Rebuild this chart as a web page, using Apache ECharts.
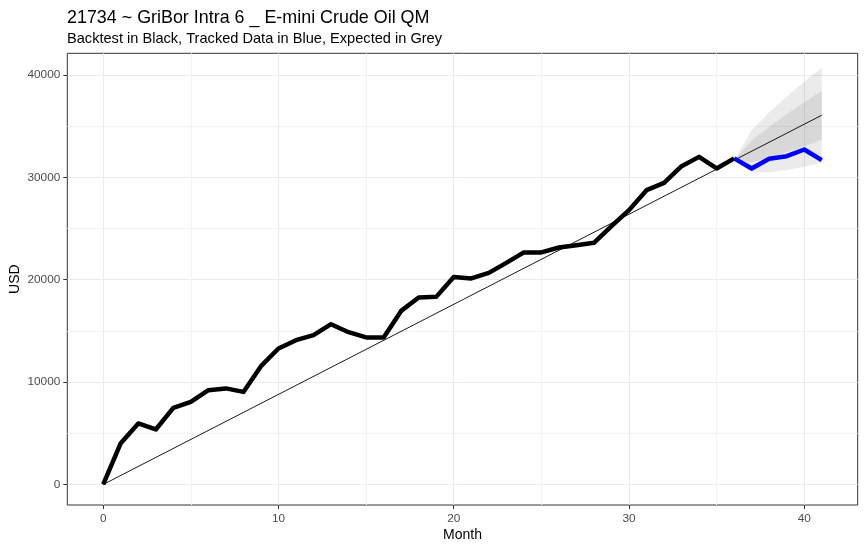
<!DOCTYPE html>
<html>
<head>
<meta charset="utf-8">
<script src="https://cdn.jsdelivr.net/npm/echarts@6/dist/echarts.min.js"></script>
<style>
html, body { margin: 0; padding: 0; background: #fff; }
#main { width: 865px; height: 551px; }
</style>
</head>
<body>
<div id="main"></div>
<script>
// backtest equity (black), tracked data (blue), expected line + bands (grey)
var backtestMonths = [0, 1, 2, 3, 4, 5, 6, 7, 8, 9, 10, 11, 12, 13, 14, 15, 16, 17, 18,
	19, 20, 21, 22, 23, 24, 25, 26, 27, 28, 29, 30, 31, 32, 33, 34, 35, 36];
var backtestUSD = [0, 4030, 5960, 5370, 7480, 8070, 9210, 9380, 9040, 11550, 13280, 14090,
	14580, 15650, 14870, 14360, 14360, 16950, 18260, 18320, 20270, 20120, 20660, 21640,
	22660, 22660, 23140, 23370, 23600, 25220, 26790, 28740, 29450, 31080, 31990, 30860, 31840];
var trackedMonths = [36, 37, 38, 39, 40, 41];
var trackedUSD = [31840, 30860, 31800, 32060, 32710, 31670];
var expectedMonths = [0, 41];
var expectedUSD = [0, 36060];
var bandMonths = [36, 37, 38, 39, 40, 41];
var outerLow = [31660, 30470, 30490, 30710, 31030, 31420];
var outerHigh = [31660, 34610, 36350, 37890, 39330, 40700];
var innerLow = [31660, 31470, 31910, 32450, 33040, 33670];
var innerHigh = [31660, 33610, 34930, 36150, 37320, 38450];
var xTicks = [0, 10, 20, 30, 40];
var xMinorTicks = [5, 15, 25, 35];
var yTicks = [0, 10000, 20000, 30000, 40000];
var yMinorTicks = [5000, 15000, 25000, 35000];

var font = 'Liberation Sans, Arial, sans-serif';

function pairs(xs, ys) {
	return xs.map(function (x, i) { return [x, ys[i]]; });
}
function bandData(xs, lo, hi) {
	return xs.map(function (x, i) { return [x, lo[i], hi[i]]; });
}

// draws the whole ribbon as one polygon, once, from all its items
function ribbon(fill) {
	return function (params, api) {
		if (params.dataIndex !== 0) return null;
		var n = params.dataInsideLength;
		var upper = [], lower = [];
		for (var i = 0; i < n; i++) {
			var x = api.value(0, i);
			upper.push(api.coord([x, api.value(2, i)]));
			lower.unshift(api.coord([x, api.value(1, i)]));
		}
		return {
			type: 'polygon',
			shape: { points: upper.concat(lower) },
			style: { fill: fill },
			silent: true
		};
	};
}

var myChart = echarts.init(document.getElementById('main'));

var xMin = -2.05, xMax = 43.05, yMin = -2005, yMax = 42105;

var option = {
	animation: false,
	backgroundColor: '#fff',
	title: {
		text: '21734 ~ GriBor Intra 6 _ E-mini Crude Oil QM',
		subtext: 'Backtest in Black, Tracked Data in Blue, Expected in Grey',
		left: 62,
		top: 4,
		itemGap: 4,
		textStyle: { fontFamily: font, fontSize: 17.9, fontWeight: 'normal', color: '#000' },
		subtextStyle: { fontFamily: font, fontSize: 14.6, color: '#000' }
	},
	grid: {
		left: 67.3, right: 7.3, top: 53.3, bottom: 46,
		containLabel: false, outerBoundsMode: 'none',
		show: true, borderColor: '#333333', borderWidth: 1, backgroundColor: 'transparent'
	},
	xAxis: [{
		type: 'value', min: xMin, max: xMax,
		name: 'Month', nameLocation: 'middle', nameGap: 23, nameMoveOverlap: false,
		nameTextStyle: { fontFamily: font, fontSize: 14, color: '#000' },
		axisLine: { show: false, onZero: false },
		axisTick: { show: true, length: 4, customValues: xTicks, lineStyle: { color: '#333333' } },
		axisLabel: { customValues: xTicks, margin: 8, fontFamily: font, fontSize: 11.8, color: '#4D4D4D' },
		splitLine: { show: true, lineStyle: { color: '#EBEBEB', width: 1 } }
	}, {
		type: 'value', min: xMin, max: xMax, position: 'bottom',
		axisLine: { show: false, onZero: false },
		axisTick: { show: false, customValues: xMinorTicks },
		axisLabel: { show: false },
		splitLine: { show: true, lineStyle: { color: '#F2F2F2', width: 1 } }
	}],
	yAxis: [{
		type: 'value', min: yMin, max: yMax,
		name: 'USD', nameLocation: 'middle', nameGap: 45, nameMoveOverlap: false,
		nameTextStyle: { fontFamily: font, fontSize: 14, color: '#000' },
		axisLine: { show: false, onZero: false },
		axisTick: { show: true, length: 4, customValues: yTicks, lineStyle: { color: '#333333' } },
		axisLabel: {
			customValues: yTicks, margin: 7, fontFamily: font, fontSize: 11.8, color: '#4D4D4D',
			formatter: function (v) { return String(v); }
		},
		splitLine: { show: true, lineStyle: { color: '#EBEBEB', width: 1 } }
	}, {
		type: 'value', min: yMin, max: yMax, position: 'left',
		axisLine: { show: false, onZero: false },
		axisTick: { show: false, customValues: yMinorTicks },
		axisLabel: { show: false },
		splitLine: { show: true, lineStyle: { color: '#F2F2F2', width: 1 } }
	}],
	series: [{
		type: 'custom', renderItem: ribbon('rgba(0,0,0,0.08)'),
		data: bandData(bandMonths, outerLow, outerHigh),
		encode: { x: 0, y: [1, 2] }, silent: true, z: 1
	}, {
		type: 'custom', renderItem: ribbon('rgba(0,0,0,0.08)'),
		data: bandData(bandMonths, innerLow, innerHigh),
		encode: { x: 0, y: [1, 2] }, silent: true, z: 1
	}, {
		type: 'line', data: pairs(expectedMonths, expectedUSD),
		symbol: 'none', lineStyle: { color: '#000', width: 0.9 }, z: 2
	}, {
		type: 'line', data: pairs(backtestMonths, backtestUSD),
		symbol: 'none', lineStyle: { color: '#000', width: 4.5, join: 'round' }, z: 3
	}, {
		type: 'line', data: pairs(trackedMonths, trackedUSD),
		symbol: 'none', lineStyle: { color: '#0000FF', width: 4.5, join: 'round' }, z: 3
	}]
};

myChart.setOption(option);
</script>
</body>
</html>
